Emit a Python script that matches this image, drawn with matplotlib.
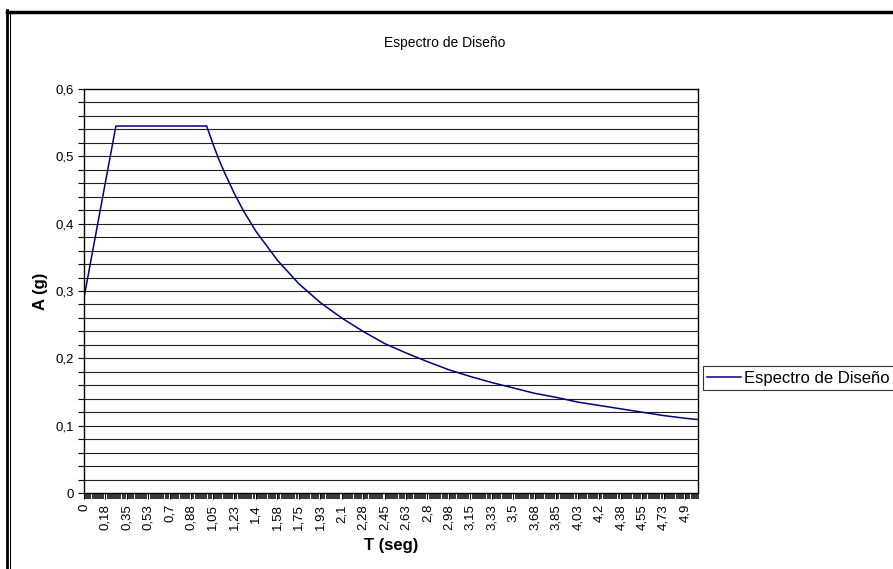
import numpy as np
import matplotlib.pyplot as plt
from matplotlib.lines import Line2D

plt.rcParams['font.family'] = ['Liberation Sans', 'DejaVu Sans']

# T (seg) and A (g)
periodo = [0.0, 0.175, 0.26, 0.35, 0.525, 0.7, 0.875, 1.0, 1.05, 1.1, 1.15,
           1.225, 1.3, 1.4, 1.575, 1.75, 1.925, 2.1, 2.275, 2.45, 2.625, 2.8,
           2.975, 3.15, 3.325, 3.5, 3.675, 3.85, 4.025, 4.2, 4.375, 4.55,
           4.725, 4.9, 5.005]
acel = [0.290, 0.462, 0.545, 0.545, 0.545, 0.545, 0.545, 0.545, 0.519, 0.495,
        0.474, 0.445, 0.419, 0.389, 0.346, 0.311, 0.283, 0.260, 0.240, 0.222,
        0.208, 0.195, 0.183, 0.173, 0.164, 0.156, 0.148, 0.142, 0.135, 0.130,
        0.125, 0.120, 0.115, 0.111, 0.109]

# category labels shown on the T axis (every 10th of the 0.0175 steps)
x_ticks = [0.0, 0.175, 0.35, 0.525, 0.7, 0.875, 1.05, 1.225, 1.4, 1.575,
           1.75, 1.925, 2.1, 2.275, 2.45, 2.625, 2.8, 2.975, 3.15, 3.325,
           3.5, 3.675, 3.85, 4.025, 4.2, 4.375, 4.55, 4.725, 4.9]
x_labels = ['0', '0,18', '0,35', '0,53', '0,7', '0,88', '1,05', '1,23', '1,4',
            '1,58', '1,75', '1,93', '2,1', '2,28', '2,45', '2,63', '2,8',
            '2,98', '3,15', '3,33', '3,5', '3,68', '3,85', '4,03', '4,2',
            '4,38', '4,55', '4,73', '4,9']
y_ticks = [0.0, 0.1, 0.2, 0.3, 0.4, 0.5, 0.6]
y_labels = ['0', '0,1', '0,2', '0,3', '0,4', '0,5', '0,6']

W, H = 893, 569
fig = plt.figure(figsize=(W/100, H/100), dpi=100)
ax = fig.add_axes([84/W, 1-493/H, (698-84)/W, (493-89)/H])

ax.plot(periodo, acel, color='#000080', lw=1.1, label='Espectro de Diseño')

ax.set_xlim(0, 5.005)
ax.set_ylim(0, 0.6)
ax.set_xticks(x_ticks)
ax.set_xticklabels(x_labels, rotation=90, fontsize=9.5)
ax.set_xticks(np.arange(0, 5.006, 0.0175), minor=True)
ax.set_yticks(y_ticks)
ax.set_yticklabels(y_labels, fontsize=9.5)
ax.set_yticks(np.arange(0, 0.601, 0.02), minor=True)
ax.tick_params(axis='both', which='both', direction='out', length=4, width=0.8)
ax.tick_params(axis='x', which='minor', length=4, width=1.1)
ax.tick_params(axis='x', which='major', pad=4)

for g in np.arange(0.02, 0.6, 0.02):
    ax.axhline(g, color='#202020', lw=0.8, zorder=0)
for s in ax.spines.values():
    s.set_color('black')
    s.set_linewidth(1.0)

ax.set_xlabel('T (seg)', fontsize=12, fontweight='bold', labelpad=6)
ax.set_ylabel('A (g)', fontsize=12, fontweight='bold', labelpad=5)
fig.text(445/W, 1-43/H, 'Espectro de Diseño', ha='center', va='center', fontsize=10)

leg = fig.legend(loc='center left', bbox_to_anchor=(703/W, 1-378/H), fontsize=12,
                 frameon=True, fancybox=False, handlelength=2.0, borderpad=0.25,
                 handletextpad=0.2, borderaxespad=0)
leg.get_frame().set_edgecolor('black')
leg.get_frame().set_linewidth(0.8)

# outer chart border (thick top and left, thin inner left)
fig.add_artist(Line2D([7/W, 1], [1-11.5/H, 1-11.5/H], color='black', lw=2.5,
                      transform=fig.transFigure))
fig.add_artist(Line2D([7/W, 7/W], [0, 1-10/H], color='black', lw=2.0,
                      transform=fig.transFigure))
fig.add_artist(Line2D([10/W, 10/W], [0, 1-13/H], color='black', lw=0.8,
                      transform=fig.transFigure))

fig.savefig('out.png', dpi=100)
